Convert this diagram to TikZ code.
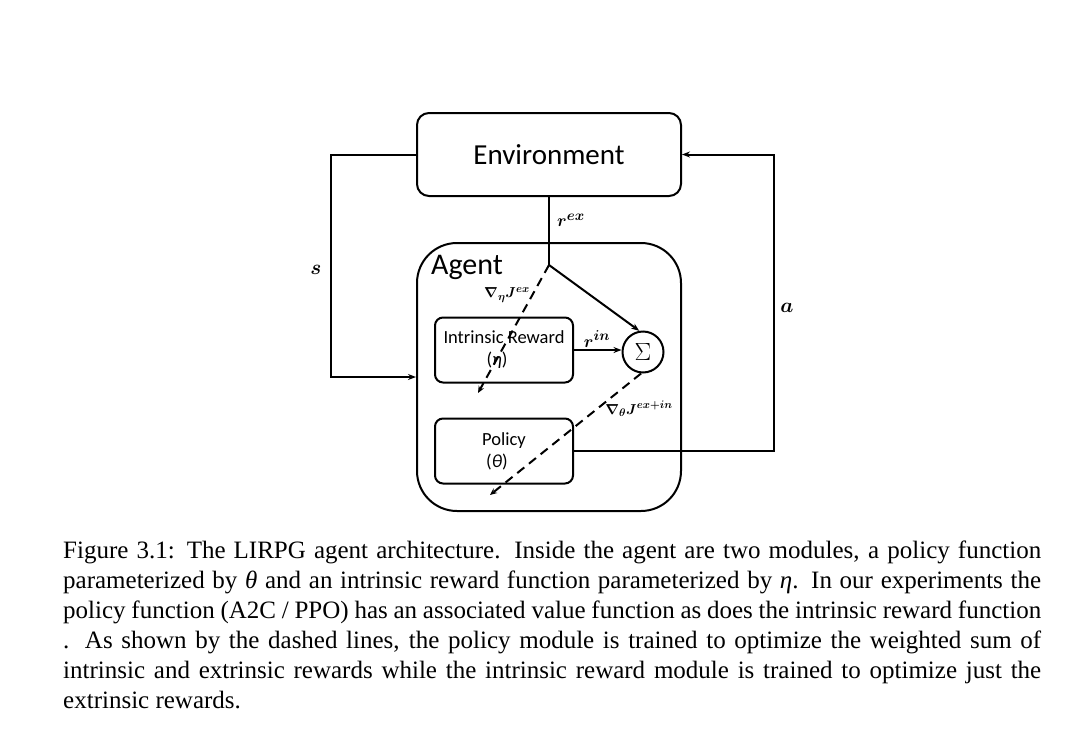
\documentclass[tikz,border=0pt]{standalone}
\usepackage{fontspec}
\setmainfont{Liberation Serif}
\newfontfamily\sansf{Carlito}
\usetikzlibrary{arrows.meta}
\begin{document}
\begin{tikzpicture}[x=1pt,y=-1pt,
  box/.style={draw,line width=2pt,rounded corners=8pt,minimum width=138pt,minimum height=65pt,inner sep=0pt,align=center,font=\sansf\fontsize{18.5}{22}\selectfont},
  conn/.style={line width=2pt,-{Stealth[length=8pt,width=6pt]}},
  plain/.style={line width=2pt},
  grad/.style={line width=2pt,dash pattern=on 9pt off 6pt,-{Stealth[length=7pt,width=6pt]}},
  lab/.style={font=\fontsize{19}{22}\selectfont\boldmath, inner sep=0pt},
  smlab/.style={font=\fontsize{15}{17}\selectfont\boldmath, inner sep=0pt},
  biglab/.style={font=\fontsize{22}{24}\selectfont\boldmath, inner sep=0pt}]
\useasboundingbox (0,0) rectangle (1080,734);
\node[draw,line width=2pt,rounded corners=12pt,minimum width=264pt,minimum height=83pt,font=\sansf\fontsize{29}{32}\selectfont] (env) at (549,154.5) {Environment};
\node[draw,line width=2pt,rounded corners=40pt,minimum width=264pt,minimum height=268pt] (agent) at (549,377) {};
\node[anchor=west,inner sep=0pt,font=\sansf\fontsize{30}{32}\selectfont] (agentlab) at (431,267) {Agent};
\node[box] (ir) at (504,350) {Intrinsic Reward\\(\textit{η})\kern14pt};
\node[box] (pol) at (504,451) {Policy\\(\textit{θ})\kern14pt};
\node[draw,circle,line width=2pt,minimum size=41pt,inner sep=0pt,font=\fontsize{24}{26}\selectfont] (sum) at (643,352) {$\Sigma$};
\coordinate (sp) at (549,265);
\coordinate (g1) at (478,393);
\coordinate (g2) at (490,495);
% connectors
\draw[plain] (env.south) -- (sp);
\draw[conn] (sp) -- (sum.100);
\draw[conn] (ir.east) -- (ir.east -| sum.west);
\draw[grad] (sp) -- (g1);
\draw[grad] (sum.265) -- (g2);
\draw[conn] (env.west) -- ++(-85,0) |- (agent.west);
\draw[conn] (pol.east) -- ++(200,0) |- (env.east);
% labels
\node[lab] (rex) at (571,220) {$r^{ex}$};
\node[lab] (rin) at (597,339) {$r^{in}$};
\node[smlab] (gex) at (507,295) {$\nabla_{\eta} J^{ex}$};
\node[smlab] (gin) at (639,409) {$\nabla_{\theta} J^{ex+in}$};
\node[biglab] (slab) at (316,270) {$s$};
\node[biglab] (alab) at (787,308) {$a$};
% caption
\node[anchor=north west,text width=978pt,inner sep=0pt,align=justify,font=\fontsize{25}{30}\selectfont] (cap) at (63,541) {Figure 3.1: The LIRPG agent architecture.  Inside the agent are two modules, a policy function\linebreak
parameterized by \textit{θ} and an intrinsic reward function parameterized by \textit{η}.  In our experiments the\linebreak
policy function (A2C / PPO) has an associated value function as does the intrinsic reward function\linebreak
. As shown by the dashed lines, the policy module is trained to optimize the weighted sum of\linebreak
intrinsic and extrinsic rewards while the intrinsic reward module is trained to optimize just the\linebreak
extrinsic rewards.};
\end{tikzpicture}
\end{document}
